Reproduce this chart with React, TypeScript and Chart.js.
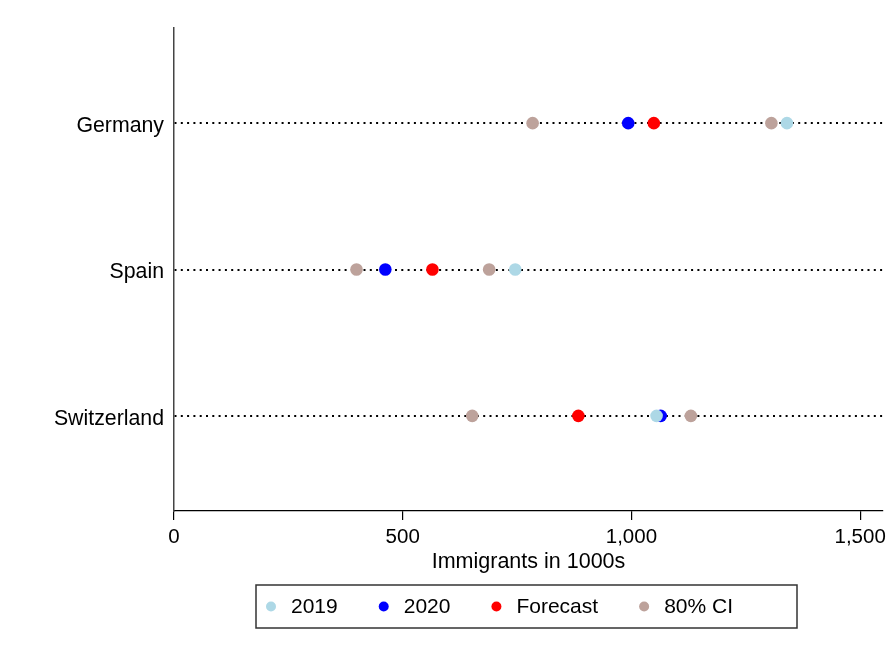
import React, { useEffect, useRef } from "react";
import { Chart, registerables } from "chart.js";

Chart.register(...registerables);

const categories = ["Germany", "Spain", "Switzerland"];
const categoryPos = [3, 2, 1];
const values2019 = [1340, 746, 1055];
const values2020 = [993, 462, 1064];
const forecast = [1049, 565, 884];
const ciLow = [784, 399, 652];
const ciHigh = [1306, 689, 1130];
const xTicks = [0, 500, 1000, 1500];
const xTitle = "Immigrants in 1000s";

const FONT = "'Liberation Sans', Arial, Helvetica, sans-serif";

const legendBox = {
  id: "legendBox",
  afterDraw(chart: any) {
    const ctx = chart.ctx;
    const left = 256, top = 585, right = 797, bottom = 628;
    ctx.save();
    ctx.strokeStyle = "#333";
    ctx.lineWidth = 1.5;
    ctx.strokeRect(left, top, right - left, bottom - top);
    ctx.font = `21px ${FONT}`;
    ctx.textBaseline = "middle";
    ctx.fillStyle = "#000";
    const cy = (top + bottom) / 2 + 1;
    let x = left + 15;
    chart.data.datasets.forEach((ds: any) => {
      ctx.beginPath();
      ctx.fillStyle = ds.backgroundColor;
      ctx.arc(x, cy - 1, 5, 0, Math.PI * 2);
      ctx.fill();
      ctx.fillStyle = "#000";
      ctx.textAlign = "left";
      ctx.fillText(ds.label, x + 20, cy);
      const w = ctx.measureText(ds.label).width;
      x += 20 + w + 46;
    });
    ctx.restore();
  },
};

export default function App() {
  const ref = useRef<HTMLCanvasElement>(null);
  useEffect(() => {
    if (!ref.current) return;
    const mk = (vals: number[]) => vals.map((v, i) => ({ x: v, y: categoryPos[i] }));
    const chart = new Chart(ref.current, {
      type: "scatter",
      data: {
        datasets: [
          { label: "2019", data: mk(values2019), backgroundColor: "#ADD8E6", borderWidth: 0, pointRadius: 6.3 },
          { label: "2020", data: mk(values2020), backgroundColor: "#0000FF", borderWidth: 0, pointRadius: 6.3 },
          { label: "Forecast", data: mk(forecast), backgroundColor: "#FF0000", borderWidth: 0, pointRadius: 6.3 },
          { label: "80% CI", data: [...mk(ciLow), ...mk(ciHigh)], backgroundColor: "#BDA29B", borderWidth: 0, pointRadius: 6.3 },
        ],
      },
      options: {
        animation: false,
        responsive: false,
        events: [],
        layout: { padding: { left: 0, top: 28, right: 10, bottom: 80 } },
        plugins: { legend: { display: false }, tooltip: { enabled: false } },
        scales: {
          x: {
            type: "linear",
            min: 0,
            max: 1550,
            afterBuildTicks: (axis: any) => {
              axis.ticks = xTicks.map((v) => ({ value: v }));
            },
            afterFit: (axis: any) => {
              axis.height = 64;
            },
            ticks: {
              color: "#000",
              font: { family: FONT, size: 20.5 },
              padding: 5,
              maxRotation: 0,
              callback: (v: any) => Number(v).toLocaleString("en-US"),
            },
            grid: { drawOnChartArea: false, drawTicks: true, tickLength: 9, color: "#000", lineWidth: 1.2 },
            border: { display: true, color: "#000", width: 1.3 },
            title: {
              display: true,
              text: xTitle,
              color: "#000",
              font: { family: FONT, size: 21.5 },
              padding: { top: 0, bottom: 0 },
            },
          },
          y: {
            type: "linear",
            min: 0.35,
            max: 3.65,
            afterBuildTicks: (axis: any) => {
              axis.ticks = categoryPos.map((v) => ({ value: v }));
            },
            afterFit: (axis: any) => {
              axis.width = 174;
            },
            ticks: {
              color: "#000",
              font: { family: FONT, size: 21.3 },
              padding: 10,
              labelOffset: 3,
              callback: (v: any) => {
                const i = categoryPos.indexOf(Number(v));
                return i >= 0 ? categories[i] : "";
              },
            },
            grid: { drawOnChartArea: true, drawTicks: false, color: "#000", lineWidth: 2 },
            border: { display: true, color: "#444", width: 1.5, dash: [2, 4.3] },
          },
        },
      },
      plugins: [legendBox],
    } as any);
    return () => chart.destroy();
  }, []);
  return (
    <div style={{ position: "absolute", left: 0, top: 0, width: 893, height: 655, background: "#fff" }}>
      <canvas ref={ref} width={893} height={655} />
    </div>
  );
}
